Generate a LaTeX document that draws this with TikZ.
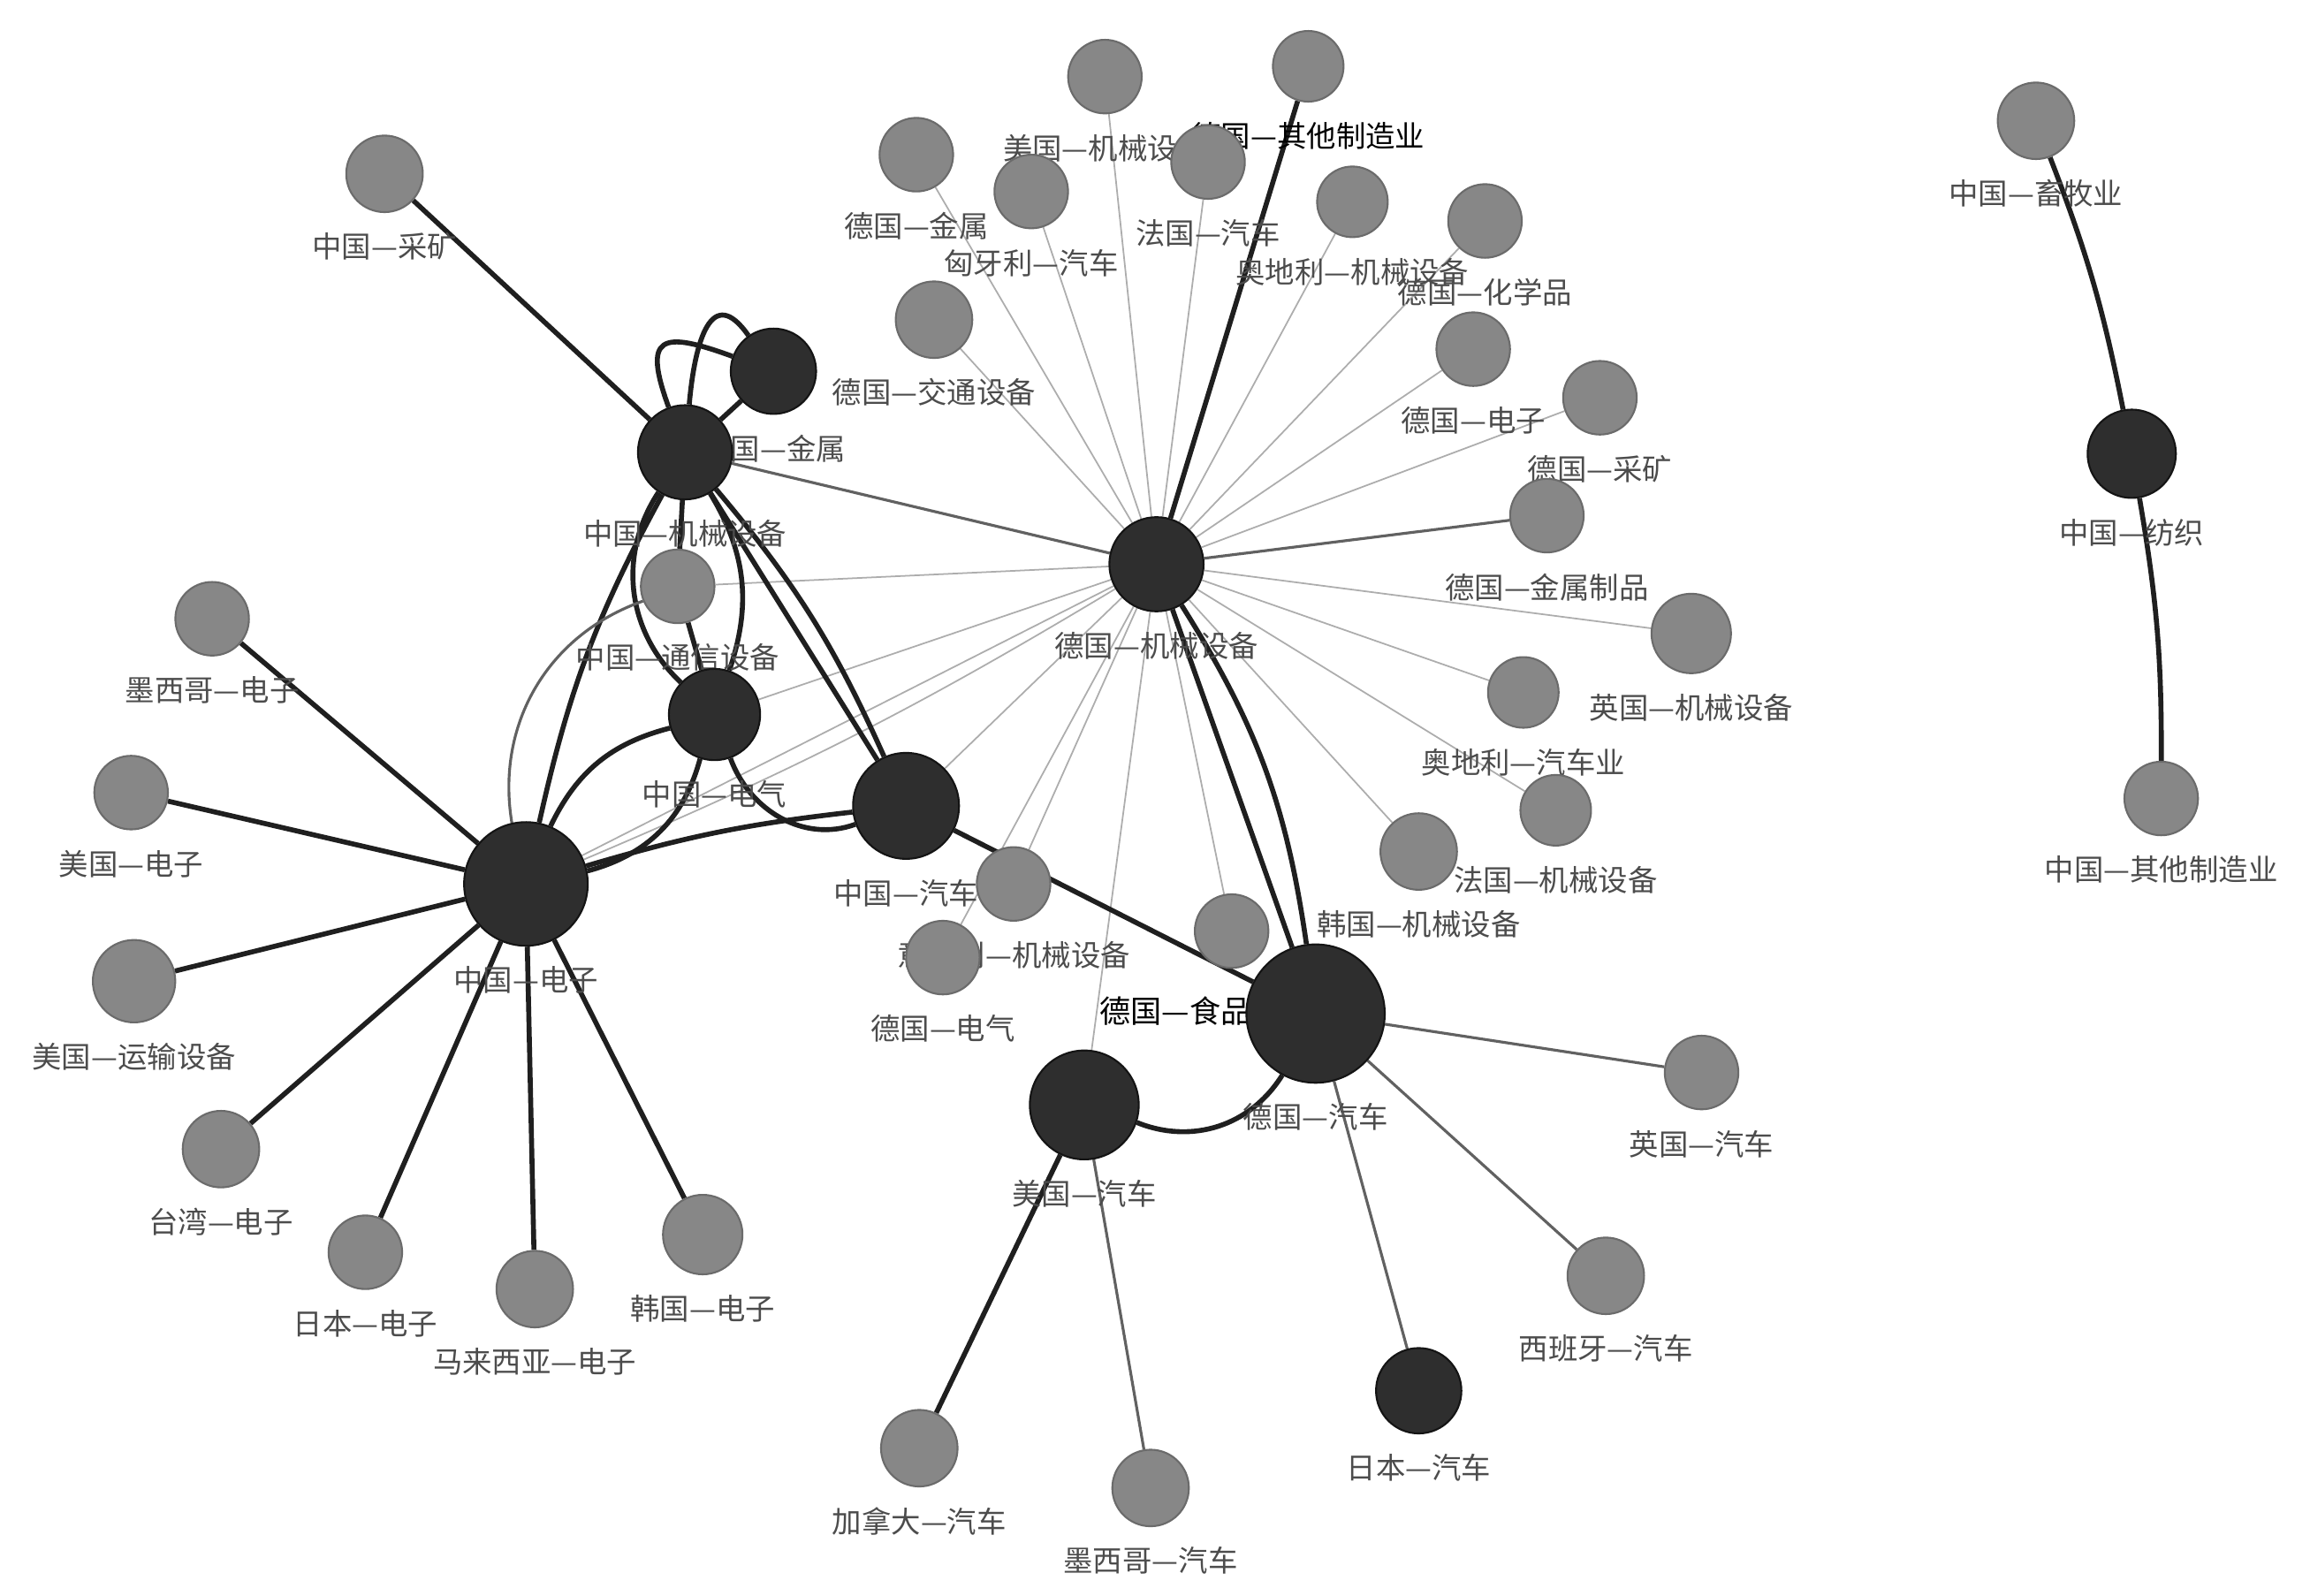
\documentclass[tikz,border=0pt]{standalone}
\usepackage{fontspec}
\newfontfamily\cjk{Noto Sans CJK SC}
\usetikzlibrary{backgrounds}

\tikzset{
  gnode/.style={circle, draw=black!58, fill=black!47, line width=0.6pt, inner sep=0pt, minimum size=#1*0.0333cm},
  dnode/.style={circle, draw=black!92, fill=black!82, line width=0.6pt, inner sep=0pt, minimum size=#1*0.0333cm},
  lab/.style={font=\cjk\fontsize{9.5}{10}\selectfont, text=black!70, inner sep=0.5pt},
  light/.style={draw=black!32, line width=0.5pt},
  medium/.style={draw=black!62, line width=0.9pt},
  heavy/.style={draw=black!88, line width=1.6pt}
}

\begin{document}
\begin{tikzpicture}[x=0.01667cm, y=-0.01667cm, label distance=0.2cm]
\useasboundingbox (0,0) rectangle (1568,1083);

% German machinery star
\node[dnode=32, label={[lab]below:德国—机械设备}] (deMach) at (785,383) {};
\node[gnode=25, label={[lab]below:美国—机械设备}] (usMach) at (750,52) {};
\node[gnode=24, label={[lab,text=black]below:德国—其他制造业}] (deOther) at (888,45) {};
\node[gnode=25, label={[lab]below:德国—金属}] (deMetal) at (622,105) {};
\node[gnode=25, label={[lab]below:匈牙利—汽车}] (huCar) at (700,130) {};
\node[gnode=25, label={[lab]below:法国—汽车}] (frCar) at (820,110) {};
\node[gnode=24, label={[lab]below:奥地利—机械设备}] (atMach) at (918,137) {};
\node[gnode=25, label={[lab]below:德国—化学品}] (deChem) at (1008,150) {};
\node[gnode=26, label={[lab]below:德国—交通设备}] (deTrans) at (634,217) {};
\node[gnode=25, label={[lab]below:德国—电子}] (deEltr) at (1000,237) {};
\node[gnode=25, label={[lab]below:德国—采矿}] (deMine) at (1086,270) {};
\node[gnode=25, label={[lab]below:德国—金属制品}] (deMetalP) at (1050,350) {};
\node[gnode=27, label={[lab]below:英国—机械设备}] (ukMach) at (1148,430) {};
\node[gnode=24, label={[lab]below:奥地利—汽车业}] (atCar) at (1034,470) {};
\node[gnode=24, label={[lab]below:法国—机械设备}] (frMach) at (1056,550) {};
\node[gnode=26, label={[lab]below:韩国—机械设备}] (krMach) at (963,578) {};
\node[gnode=25] (deFood) at (836,632) {};
\node[font=\cjk\fontsize{10}{11}\selectfont, inner sep=0pt] (deFoodLab) at (798,686) {德国—食品};
\node[gnode=25, label={[lab]below:意大利—机械设备}] (itMach) at (688,600) {};
\node[gnode=25, label={[lab]below:德国—电气}] (deElec) at (640,650) {};

% Chinese cluster
\node[gnode=26, label={[lab]below:中国—采矿}] (cnMine) at (261,118) {};
\node[dnode=29, label={[lab]below:中国—金属}] (cnMetal) at (525,252) {};
\node[dnode=32, label={[lab]below:中国—机械设备}] (cnMach) at (465,307) {};
\node[gnode=25, label={[lab]below:中国—通信设备}] (cnComm) at (460,398) {};
\node[dnode=31, label={[lab]below:中国—电气}] (cnElec) at (485,485) {};
\node[dnode=36, label={[lab]below:中国—汽车}] (cnCar) at (615,547) {};
\node[dnode=42, label={[lab]below:中国—电子}] (cnEltr) at (357,600) {};
\node[gnode=25, label={[lab]below:墨西哥—电子}] (mxEltr) at (144,420) {};
\node[gnode=25, label={[lab]below:美国—电子}] (usEltr) at (89,538) {};
\node[gnode=28, label={[lab]below:美国—运输设备}] (usTrans) at (91,666) {};
\node[gnode=26, label={[lab]below:台湾—电子}] (twEltr) at (150,780) {};
\node[gnode=25, label={[lab]below:日本—电子}] (jpEltr) at (248,850) {};
\node[gnode=26, label={[lab]below:马来西亚—电子}] (myEltr) at (363,875) {};
\node[gnode=27, label={[lab]below:韩国—电子}] (krEltr) at (477,838) {};

% cars
\node[dnode=47, label={[lab]below:德国—汽车}] (deCar) at (893,688) {};
\node[dnode=37, label={[lab]below:美国—汽车}] (usCar) at (736,750) {};
\node[gnode=26, label={[lab]below:加拿大—汽车}] (caCar) at (624,983) {};
\node[gnode=26, label={[lab]below:墨西哥—汽车}] (mxCar) at (781,1010) {};
\node[gnode=25, label={[lab]below:英国—汽车}] (ukCar) at (1155,728) {};
\node[gnode=26, label={[lab]below:西班牙—汽车}] (esCar) at (1090,866) {};
\node[dnode=29, label={[lab]below:日本—汽车}] (jpCar) at (963,944) {};

% separate chain
\node[gnode=26, label={[lab]below:中国—畜牧业}] (cnLive) at (1382,82) {};
\node[dnode=30, label={[lab]below:中国—纺织}] (cnTex) at (1447,308) {};
\node[gnode=25, label={[lab]below:中国—其他制造业}] (cnOther) at (1467,542) {};

\begin{scope}[on background layer]
\fill[white] (0,0) rectangle (1568,1083);
\foreach \n in {usMach, deMetal, huCar, frCar, atMach, deChem, deTrans, deEltr, deMine, ukMach, atCar, frMach, krMach, deFood, itMach, deElec, cnComm, cnElec, cnCar, cnEltr, usCar}
  \draw[light] (deMach) -- (\n);
\draw[light] (deMach) to[bend left=4] (cnEltr);
\draw[heavy] (deMach) -- (deOther);
\draw[medium] (deMach) -- (deMetalP);
\draw[medium] (deMach) -- (cnMach);
\draw[heavy] (deMach) -- (deCar);
\draw[heavy] (deMach) to[bend left=12] (deCar);

\draw[heavy] (cnMine) -- (cnMach);
\draw[heavy] (cnMach) -- (cnMetal);
\draw[heavy] (cnMach) to[out=85, in=125, looseness=1.8] (cnMetal);
\draw[heavy] (cnMach) to[out=110, in=160, looseness=2.4] (cnMetal);
\draw[heavy] (cnMach) -- (cnComm);
\draw[heavy] (cnComm) -- (cnElec);
\draw[heavy] (cnMach) to[bend right=40] (cnElec);
\draw[heavy] (cnMach) to[bend left=25] (cnElec);
\draw[heavy] (cnMach) to[bend right=8] (cnEltr);
\draw[heavy] (cnMach) -- (cnCar);
\draw[heavy] (cnMach) to[bend left=8] (cnCar);
\draw[heavy] (cnElec) to[bend right=25] (cnEltr);
\draw[heavy] (cnElec) to[bend left=30] (cnEltr);
\draw[heavy] (cnElec) to[out=-70, in=200] (cnCar);
\draw[heavy] (cnEltr) to[bend left=5] (cnCar);
\draw[medium] (cnEltr) to[bend left=40] (cnComm);
\draw[heavy] (cnCar) -- (deCar);
\foreach \n in {mxEltr, usEltr, usTrans, twEltr, jpEltr, myEltr, krEltr}
  \draw[heavy] (cnEltr) -- (\n);

\draw[heavy] (usCar) to[bend right=40] (deCar);
\draw[heavy] (usCar) -- (caCar);
\draw[medium] (usCar) -- (mxCar);
\draw[medium] (deCar) -- (ukCar);
\draw[medium] (deCar) -- (esCar);
\draw[medium] (deCar) -- (jpCar);

\draw[heavy] (cnLive) to[bend left=5] (cnTex);
\draw[heavy] (cnTex) to[bend left=5] (cnOther);
\end{scope}
\end{tikzpicture}
\end{document}
